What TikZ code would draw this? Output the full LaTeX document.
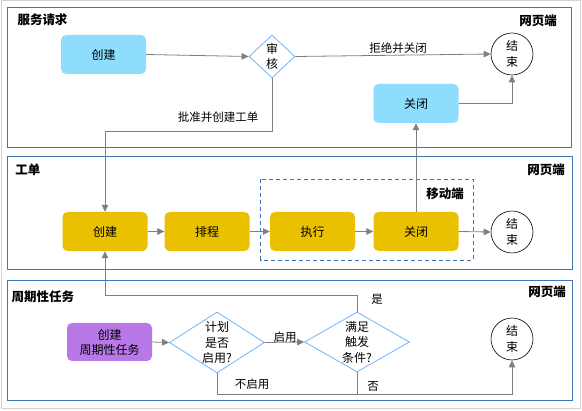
\documentclass[tikz,border=0pt]{standalone}
\usepackage{fontspec}
\setmainfont{Noto Sans CJK SC}
\usetikzlibrary{arrows.meta,shapes.geometric,calc}
\definecolor{lane}{HTML}{3D78B5}
\definecolor{lblue}{HTML}{8FDDFD}
\definecolor{ylw}{HTML}{E9C100}
\definecolor{prp}{HTML}{B978E8}
\definecolor{dia}{HTML}{6DB5FF}
\definecolor{cgray}{HTML}{7F7F7F}
\tikzset{
  x=1pt, y=-1pt,
  every node/.style={font=\fontsize{12}{15.5}\selectfont, text=black},
  lanebox/.style={draw=lane, line width=0.9pt},
  title/.style={font=\fontsize{12.5}{15}\selectfont\bfseries, anchor=center},
  boxa/.style={rounded corners=5pt, minimum width=85pt, minimum height=39pt, inner sep=0pt, align=center},
  bluebox/.style={boxa, fill=lblue},
  ylwbox/.style={boxa, fill=ylw},
  prpbox/.style={boxa, fill=prp},
  decis/.style={diamond, draw=dia, fill=white, line width=0.8pt, inner sep=0pt, text=black},
  endc/.style={circle, draw=black, line width=0.6pt, minimum size=42pt, inner sep=0pt, align=center, fill=white},
  conn/.style={draw=cgray, line width=0.8pt, -{Triangle[width=6.5pt,length=7pt]}, color=cgray},
  plain/.style={draw=cgray, line width=0.8pt},
  lab/.style={font=\fontsize{11.5}{14}\selectfont, anchor=center},
}
\begin{document}
\begin{tikzpicture}
\useasboundingbox (0,0) rectangle (582,411);
\draw[gray!35, line width=1pt] (1,1) rectangle (580.5,409);
% lanes
\draw[lanebox] (7.5,7.5) rectangle (571.5,147);
\draw[lanebox] (7.5,156) rectangle (572,269);
\draw[lanebox] (7.5,280) rectangle (572,400);
\node[title] (t1) at (42.5,20) {服务请求};
\node[title] (w1) at (538,21) {网页端};
\node[title] (t2) at (28,170) {工单};
\node[title] (w2) at (546,170) {网页端};
\node[title] (t3) at (43,297) {周期性任务};
\node[title] (w3) at (547,292) {网页端};
% mobile box
\draw[draw=lane, dashed, dash pattern=on 4pt off 3pt, line width=0.8pt] (260.5,179.5) rectangle (473,260);
\node[title] (mob) at (445,194) {移动端};
% lane 1
\node[bluebox] (c1) at (103.5,54.5) {创建};
\node[decis, minimum width=46pt, minimum height=43pt, label={[align=center, inner sep=0pt, font=\fontsize{12}{15}\selectfont]center:审\\核}] (sh) at (272,56.5) {};
\node[endc] (e1) at (512,54) {结\\束};
\node[bluebox] (g1) at (416,103.5) {关闭};
\draw[conn] (c1.east) -- (sh.west);
\draw[conn] (sh.east) -- (e1.west);
\node[lab] (l1) at (398,48) {拒绝并关闭};
\draw[conn] (g1.east) -| (e1.south);
% lane 2
\node[ylwbox] (c2) at (105,231.5) {创建};
\node[ylwbox] (p2) at (207,231.5) {排程};
\node[ylwbox] (x2) at (312.5,231.5) {执行};
\node[ylwbox] (g2) at (416,231.5) {关闭};
\node[endc] (e2) at (512,232) {结\\束};
\draw[conn] (c2.east) -- (p2.west);
\draw[conn] (p2.east) -- (x2.west);
\draw[conn] (x2.east) -- (g2.west);
\draw[conn] (g2.east) -- (e2.west);
\draw[conn] (g2.north) -- (g1.south);
\draw[conn] (sh.south) -- ++(0,53) -| (c2.north);
\node[lab] (l2) at (218,117) {批准并创建工单};
% lane 3
\node[prpbox, minimum width=85pt, minimum height=38pt, font=\fontsize{12}{15}\selectfont] (c3) at (109.5,342) {创建\\周期性任务};
\node[decis, minimum width=95pt, minimum height=61pt, label={[align=center, inner sep=0pt, font=\fontsize{12}{15.5}\selectfont]center:计划\\是否\\启用?}] (d1) at (217,342.5) {};
\node[decis, minimum width=105pt, minimum height=60pt, label={[align=center, inner sep=0pt, font=\fontsize{12}{15.5}\selectfont]center:满足\\触发\\条件?}] (d2) at (357,342) {};
\node[endc] (e3) at (512,339) {结\\束};
\draw[conn] (c3.east) -- (d1.west);
\draw[conn] (d1.east) -- (d2.west);
\node[lab] (l3) at (285,337) {启用};
\coordinate (bl) at (217,394);
\draw[conn] (d1.south) -- (bl) -| (e3.south);
\draw[plain] (d2.south) -- (d2.south |- bl);
\node[lab] (l4) at (252,384) {不启用};
\node[lab] (l5) at (373,386) {否};
\draw[conn] (d2.north) -- ++(0,-16) -| (c2.south);
\node[lab] (l6) at (377,299) {是};
\end{tikzpicture}
\end{document}
